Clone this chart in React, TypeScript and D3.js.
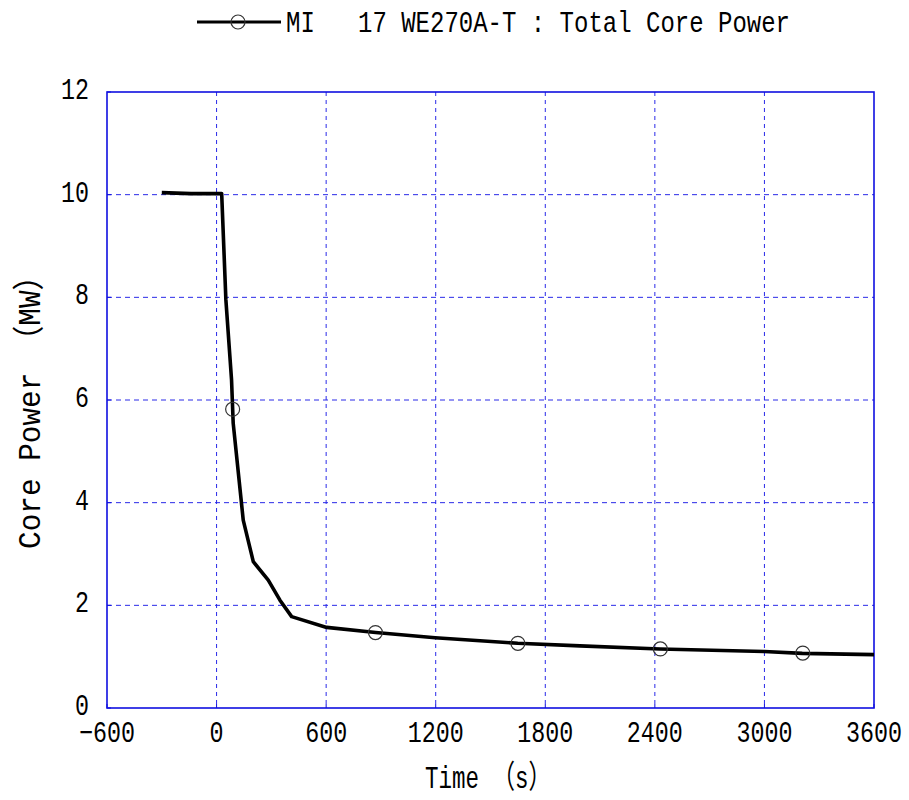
import React from "react";
import * as d3 from "d3";

// Total core power transient, time in seconds, power in MW
const timeS = [-300, -220, -140, -60, 0, 28, 51, 82, 91, 146, 201, 283, 347, 411, 603, 871, 1197, 1649, 1990, 2428, 2999, 3207, 3600];
const powerMW = [10.04, 10.03, 10.02, 10.02, 10.02, 10.02, 7.95, 6.39, 5.55, 3.66, 2.85, 2.49, 2.1, 1.78, 1.57, 1.47, 1.37, 1.26, 1.21, 1.15, 1.1, 1.065, 1.04];

// Marker positions along the same series
const markerTimeS = [88, 870, 1650, 2430, 3210];
const markerPowerMW = [5.82, 1.47, 1.26, 1.15, 1.07];

const xTicks = [-600, 0, 600, 1200, 1800, 2400, 3000, 3600];
const yTicks = [0, 2, 4, 6, 8, 10, 12];

const legendLabel = "MI\u00a0\u00a0\u00a017 WE270A-T : Total Core Power";
const xTitle = "Time （s）";
const yTitle = "Core Power （MW）";

const W = 909;
const H = 800;
const plot = { left: 107, right: 874, top: 92, bottom: 708 };
const FONT = "'Liberation Mono', 'DejaVu Sans Mono', 'Noto Sans CJK JP', monospace";
const GRID = "#2a2ae8";
const FRAME = "#1010e0";

function fmt(v: number) {
  return v < 0 ? "\u2212" + Math.abs(v) : String(v);
}

export default function App() {
  const x = d3.scaleLinear().domain([-600, 3600]).range([plot.left, plot.right]);
  const y = d3.scaleLinear().domain([0, 12]).range([plot.bottom, plot.top]);

  const pts: [number, number][] = timeS.map((t, i) => [t, powerMW[i]]);
  const line = d3
    .line<[number, number]>()
    .x((d) => x(d[0]))
    .y((d) => y(d[1]));

  const charW = 14;

  return (
    <svg
      width={W}
      height={H}
      style={{ position: "absolute", left: 0, top: 0, background: "#fff" }}
      fontFamily={FONT}
    >
      <rect x={0} y={0} width={W} height={H} fill="#fff" />

      {/* grid */}
      {xTicks.slice(1, -1).map((t) => (
        <line
          key={"gx" + t}
          x1={x(t)}
          x2={x(t)}
          y1={plot.top}
          y2={plot.bottom}
          stroke={GRID}
          strokeWidth={1}
          strokeDasharray="4 4"
        />
      ))}
      {yTicks.slice(1, -1).map((v) => (
        <line
          key={"gy" + v}
          x1={plot.left}
          x2={plot.right}
          y1={y(v)}
          y2={y(v)}
          stroke={GRID}
          strokeWidth={1}
          strokeDasharray="5 4"
        />
      ))}

      {/* inward ticks */}
      {yTicks.map((v) => (
        <line key={"ty" + v} x1={plot.left} x2={plot.left + 4} y1={y(v)} y2={y(v)} stroke={FRAME} strokeWidth={1} />
      ))}
      {xTicks.map((t) => (
        <line key={"tx" + t} x1={x(t)} x2={x(t)} y1={plot.bottom} y2={plot.bottom - 4} stroke={FRAME} strokeWidth={1} />
      ))}

      {/* frame */}
      <rect
        x={plot.left}
        y={plot.top}
        width={plot.right - plot.left}
        height={plot.bottom - plot.top}
        fill="none"
        stroke={FRAME}
        strokeWidth={1.6}
      />

      {/* series */}
      <path d={line(pts) || ""} fill="none" stroke="#000" strokeWidth={3.6} strokeLinejoin="round" />
      {markerTimeS.map((t, i) => (
        <circle key={"m" + i} cx={x(t)} cy={y(markerPowerMW[i])} r={7} fill="none" stroke="#333" strokeWidth={1.2} />
      ))}

      {/* tick labels */}
      {xTicks.map((t) => {
        const s = fmt(t);
        return (
          <text
            key={"lx" + t}
            x={x(t)}
            y={742}
            textAnchor="middle"
            fontSize={29}
            textLength={s.length * charW}
            lengthAdjust="spacingAndGlyphs"
            fill="#000"
          >
            {s}
          </text>
        );
      })}
      {yTicks.map((v) => {
        const s = fmt(v);
        return (
          <text
            key={"ly" + v}
            x={89}
            y={y(v) + 7}
            textAnchor="end"
            fontSize={29}
            textLength={s.length * charW}
            lengthAdjust="spacingAndGlyphs"
            fill="#000"
          >
            {s}
          </text>
        );
      })}

      {/* axis titles */}
      <text
        x={488}
        y={788}
        textAnchor="middle"
        fontSize={32}
        textLength={126}
        lengthAdjust="spacingAndGlyphs"
        fill="#000"
      >
        {xTitle}
      </text>
      <text
        transform={`translate(40,405) rotate(-90)`}
        textAnchor="middle"
        fontSize={32}
        textLength={288}
        lengthAdjust="spacingAndGlyphs"
        fill="#000"
      >
        {yTitle}
      </text>

      {/* legend */}
      <line x1={197} x2={281} y1={22} y2={22} stroke="#000" strokeWidth={3} />
      <circle cx={238} cy={22} r={7} fill="none" stroke="#333" strokeWidth={1.2} />
      <text
        x={286}
        y={32}
        fontSize={29}
        textLength={504}
        lengthAdjust="spacingAndGlyphs"
        fill="#000"
      >
        {legendLabel}
      </text>
    </svg>
  );
}
